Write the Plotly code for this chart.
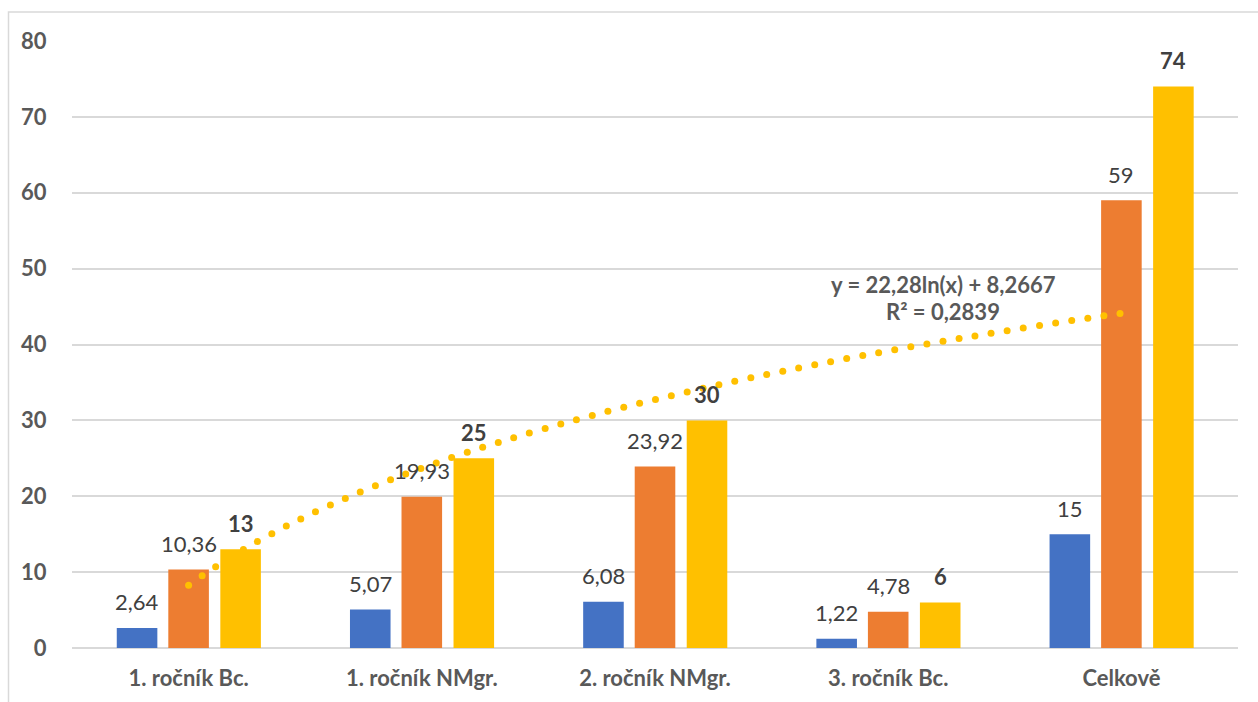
import numpy as np
import plotly.graph_objects as go

categories = ["1. ročník Bc.", "1. ročník NMgr.", "2. ročník NMgr.", "3. ročník Bc.", "Celkově"]
series1 = [2.64, 5.07, 6.08, 1.22, 15]
series2 = [10.36, 19.93, 23.92, 4.78, 59]
series3 = [13, 25, 30, 6, 74]
labels1 = ["2,64", "5,07", "6,08", "1,22", "15"]
labels2 = ["10,36", "19,93", "23,92", "4,78", "59"]
labels3 = ["13", "25", "30", "6", "74"]
y_ticks = [0, 10, 20, 30, 40, 50, 60, 70, 80]

colors = ["#4472C4", "#ED7D31", "#FFC000"]
FONT = "Lato"
W, H = 1258, 702
L, R, T, B = 72, 20, 41, 54
plot_w = W - L - R
plot_h = H - T - B

xc = np.arange(1, len(categories) + 1)
offsets = [-0.221, 0.0, 0.223]
bar_w = 0.174

fig = go.Figure()
all_series = [series1, series2, series3]
all_labels = [labels1, labels2, labels3]
for s, (vals, col, off) in enumerate(zip(all_series, colors, offsets)):
    fig.add_trace(go.Bar(x=xc + off, y=vals, width=bar_w, marker=dict(color=col, line=dict(width=0)),
                         showlegend=False, hoverinfo="y"))

# logarithmic trendline fitted to third series
a, b = np.polyfit(np.log(xc), np.array(series3, dtype=float), 1)
r2 = 1 - np.sum((np.array(series3) - (a * np.log(xc) + b)) ** 2) / np.sum((np.array(series3) - np.mean(series3)) ** 2)
xs = np.linspace(1, 5, 4001)
ys = a * np.log(xs) + b
px_x = xs * (plot_w / 5.0)
px_y = ys * (plot_h / 80.0)
seg = np.sqrt(np.diff(px_x) ** 2 + np.diff(px_y) ** 2)
cum = np.concatenate([[0], np.cumsum(seg)])
spacing = 16.3
targets = np.arange(0, cum[-1] + 0.1, spacing)
idx = np.searchsorted(cum, targets).clip(0, len(xs) - 1)
fig.add_trace(go.Scatter(x=xs[idx], y=ys[idx], mode="markers",
                         marker=dict(color="#FFC000", size=7, line=dict(width=0)),
                         showlegend=False, hoverinfo="skip"))

annotations = []
for s, (vals, labs, off) in enumerate(zip(all_series, all_labels, offsets)):
    for i, (v, t) in enumerate(zip(vals, labs)):
        annotations.append(dict(x=xc[i] + off, y=v, xref="x", yref="y", text=("<b>%s</b>" % t) if s == 2 else t,
                                showarrow=False, yanchor="middle", xanchor="center", yshift=26,
                                font=dict(family=FONT, size=22, color="#404040")))

eq = "y = %sln(x) + %s" % (f"{a:.2f}".replace(".", ","), f"{b:.4f}".replace(".", ","))
r2t = "R² = %s" % f"{r2:.4f}".replace(".", ",")
annotations.append(dict(x=4.235, y=47.9, xref="x", yref="y", text="<b>%s</b>" % eq, showarrow=False,
                        font=dict(family=FONT, size=22, color="#595959")))
annotations.append(dict(x=4.235, y=44.3, xref="x", yref="y", text="<b>%s</b>" % r2t, showarrow=False,
                        font=dict(family=FONT, size=22, color="#595959")))

fig.update_layout(
    width=W, height=H,
    margin=dict(l=L, r=R, t=T, b=B, pad=0),
    paper_bgcolor="white", plot_bgcolor="white",
    barmode="overlay",
    annotations=annotations,
    xaxis=dict(range=[0.5, 5.5], tickvals=list(xc), ticktext=["<b>%s</b>" % c for c in categories],
               showgrid=False, zeroline=False, showline=False, ticks="outside", ticklen=11,
               tickcolor="rgba(0,0,0,0)", tickfont=dict(family=FONT, size=22, color="#595959")),
    yaxis=dict(range=[0, 80], tickvals=y_ticks, ticktext=["<b>%d</b>" % v for v in y_ticks],
               showgrid=True, gridcolor="#D9D9D9", gridwidth=1.5, zeroline=True, zerolinecolor="#D9D9D9",
               zerolinewidth=1.5, showline=False, ticks="outside", ticklen=20, tickcolor="rgba(0,0,0,0)",
               tickfont=dict(family=FONT, size=22, color="#595959")),
    shapes=[dict(type="rect", xref="paper", yref="paper",
                 x0=(8.5 - L) / plot_w, x1=(W + 10 - L) / plot_w,
                 y0=(H - B - (H + 10)) / plot_h, y1=(H - B - 12) / plot_h,
                 line=dict(color="#D9D9D9", width=1.5), fillcolor="rgba(0,0,0,0)", layer="below")],
)

fig.write_html("out.html")
